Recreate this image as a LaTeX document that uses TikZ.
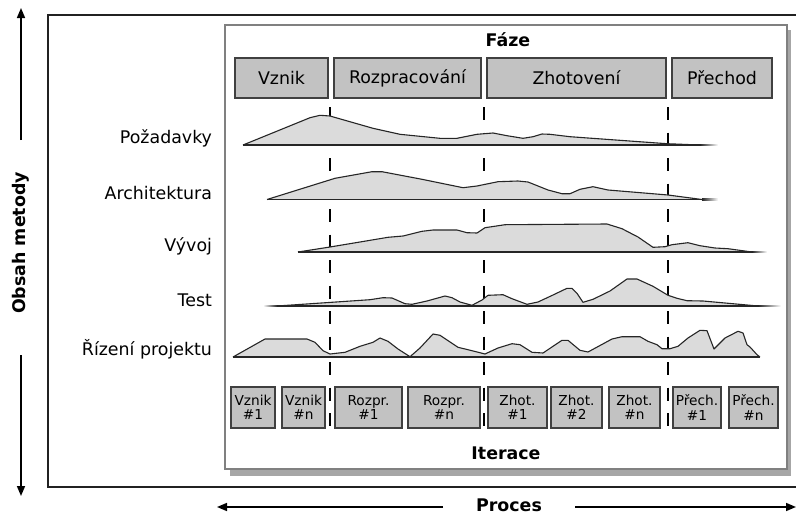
\documentclass[tikz,border=0pt]{standalone}
\usepackage{fontspec}
\setmainfont{DejaVu Sans}
\usetikzlibrary{arrows.meta}
\definecolor{boxfill}{gray}{0.76}
\definecolor{boxedge}{gray}{0.25}
\definecolor{profilefill}{gray}{0.86}
\definecolor{paneledge}{gray}{0.5}
\definecolor{panelshadow}{gray}{0.65}
\definecolor{frameline}{gray}{0.13}

\begin{document}
\begin{tikzpicture}[x=1pt,y=-1pt,
  every node/.style={inner sep=0pt, outer sep=0pt},
  phasebox/.style={draw=boxedge, fill=boxfill, line width=1.2pt,
    minimum height=40pt, font=\fontsize{17.4}{20}\selectfont},
  iterbox/.style={draw=boxedge, fill=boxfill, line width=1.2pt,
    minimum height=41pt, align=center,
    font=\fontsize{13.7}{14.3}\selectfont},
  rowlabel/.style={anchor=base east, font=\fontsize{17.4}{20}\selectfont},
  heading/.style={font=\bfseries\fontsize{17.4}{20}\selectfont},
  profile/.style={fill=profilefill},
  outline/.style={draw=black!85, line width=1.1pt, line join=round},
  baseln/.style={draw=black!85, line width=1.4pt},
  phaseline/.style={line width=2pt, dash pattern=on 13pt off 12.5pt},
  axis/.style={line width=1.6pt, -{Triangle[length=10pt,width=8pt]}},
]
\useasboundingbox (0,0) rectangle (796,515);

% outer frame (open on the right)
\draw[frameline, line width=2.4pt] (796,15) -- (48,15) -- (48,487) -- (796,487);

% axes
\coordinate (upS) at (21,140);   \coordinate (upE) at (21,8);
\coordinate (dnS) at (21,355);   \coordinate (dnE) at (21,496);
\coordinate (lfS) at (443,507);  \coordinate (lfE) at (217,507);
\coordinate (rtS) at (575,507);  \coordinate (rtE) at (796,507);
\draw[axis] (upS) -- (upE);
\draw[axis] (dnS) -- (dnE);
\draw[axis] (lfS) -- (lfE);
\draw[axis] (rtS) -- (rtE);
\node[heading, rotate=90] (obsah) at (21,243) {Obsah metody};
\node[heading, anchor=base] (proces) at (509,511.5) {Proces};

% inner panel with shadow
\fill[panelshadow] (230,30) rectangle (791,476);
\draw[paneledge, fill=white, line width=1.4pt] (225,25) rectangle (787,469);

% phases
\node[heading, anchor=base] (faze) at (508,46.7) {Fáze};
\node[phasebox, minimum width=93pt]  (pVz) at (281.5,78) {Vznik};
\node[phasebox, minimum width=147pt] (pRo) at (407.5,78) {Rozpracování};
\node[phasebox, minimum width=179pt] (pZh) at (576.5,78) {Zhotovení};
\node[phasebox, minimum width=100pt] (pPr) at (722,78) {Přechod};

% phase boundaries
\foreach \bx in {330,484,668}
  \draw[phaseline] (\bx,107) -- (\bx,426.5);

% Požadavky
\fill[profile] (243,145) -- (310,117.7) -- (320,115.3) -- (330,116) -- (373,128.3) -- (400,134.3) -- (440,138.3) -- (457,138.3) -- (477,134.3) -- (493,133) -- (507,135.7) -- (523,138.3) -- (533,136.7) -- (542,134) -- (550,134.3) -- (570,136.7) -- (667,143.7) -- (700,145) -- cycle;
\draw[outline] (243,145) -- (310,117.7) -- (320,115.3) -- (330,116) -- (373,128.3) -- (400,134.3) -- (440,138.3) -- (457,138.3) -- (477,134.3) -- (493,133) -- (507,135.7) -- (523,138.3) -- (533,136.7) -- (542,134) -- (550,134.3) -- (570,136.7) -- (667,143.7) -- (700,145);
\draw[baseln] (243,145) -- (700,145);
\shade[left color=black!85, right color=white] (700,144.3) rectangle (718,145.7);

% Architektura
\fill[profile] (267,199.5) -- (335,178.3) -- (372,171.7) -- (382,171.7) -- (422,179.3) -- (463,187.7) -- (477,186) -- (498,181.7) -- (518,181) -- (528,182) -- (548,190) -- (562,193.7) -- (570,193.7) -- (580,189.3) -- (593,186.7) -- (608,190) -- (668,195) -- (702,199.5) -- cycle;
\draw[outline] (267,199.5) -- (335,178.3) -- (372,171.7) -- (382,171.7) -- (422,179.3) -- (463,187.7) -- (477,186) -- (498,181.7) -- (518,181) -- (528,182) -- (548,190) -- (562,193.7) -- (570,193.7) -- (580,189.3) -- (593,186.7) -- (608,190) -- (668,195) -- (702,199.5);
\draw[baseln] (267,199.5) -- (702,199.5);
\shade[left color=black!85, right color=white] (702,198.8) rectangle (718,200.2);

% Vývoj
\fill[profile] (298,252) -- (330,247) -- (388,237.3) -- (403,236) -- (422,231.3) -- (433,230) -- (457,230) -- (467,232.7) -- (477,233) -- (485,227.7) -- (505,224.7) -- (607,224) -- (622,228.7) -- (638,237) -- (653,247.3) -- (665,246.7) -- (672,244.7) -- (688,242.7) -- (700,245.7) -- (715,248) -- (728,248.7) -- (752,252) -- cycle;
\draw[outline] (298,252) -- (330,247) -- (388,237.3) -- (403,236) -- (422,231.3) -- (433,230) -- (457,230) -- (467,232.7) -- (477,233) -- (485,227.7) -- (505,224.7) -- (607,224) -- (622,228.7) -- (638,237) -- (653,247.3) -- (665,246.7) -- (672,244.7) -- (688,242.7) -- (700,245.7) -- (715,248) -- (728,248.7) -- (752,252);
\draw[baseln] (298,252) -- (752,252);
\shade[left color=black!85, right color=white] (752,251.3) rectangle (767,252.7);

% Test
\fill[profile] (277,306) -- (370,299.7) -- (383,297.7) -- (392,298) -- (405,303.7) -- (412,304.3) -- (427,301) -- (445,296) -- (452,297.7) -- (460,302) -- (472,305.3) -- (482,300) -- (488,295.3) -- (503,294.7) -- (512,298.7) -- (527,304.3) -- (538,302) -- (553,295) -- (567,288.3) -- (572,288.3) -- (577,293.3) -- (583,302.3) -- (593,299.3) -- (610,291) -- (627,279) -- (637,279) -- (653,286.3) -- (668,295.3) -- (677,298.3) -- (687,300.7) -- (703,301) -- (758,306) -- cycle;
\draw[outline] (277,306) -- (370,299.7) -- (383,297.7) -- (392,298) -- (405,303.7) -- (412,304.3) -- (427,301) -- (445,296) -- (452,297.7) -- (460,302) -- (472,305.3) -- (482,300) -- (488,295.3) -- (503,294.7) -- (512,298.7) -- (527,304.3) -- (538,302) -- (553,295) -- (567,288.3) -- (572,288.3) -- (577,293.3) -- (583,302.3) -- (593,299.3) -- (610,291) -- (627,279) -- (637,279) -- (653,286.3) -- (668,295.3) -- (677,298.3) -- (687,300.7) -- (703,301) -- (758,306);
\draw[baseln] (277,306) -- (758,306);
\shade[left color=white, right color=black!85] (263,305.3) rectangle (277,306.7);
\shade[left color=black!85, right color=white] (758,305.3) rectangle (781,306.7);

% Řízení projektu
\fill[profile] (233,357) -- (265,339) -- (307,339) -- (315,342.3) -- (323,350.7) -- (330,354) -- (345,352.3) -- (360,346.3) -- (373,342.3) -- (380,338) -- (388,341.3) -- (398,349) -- (410,356.7) -- (420,348) -- (433,334) -- (440,335.3) -- (458,347.3) -- (468,349.7) -- (485,354) -- (498,348) -- (512,343.7) -- (520,344.7) -- (532,352.3) -- (543,353) -- (562,340.3) -- (568,340.3) -- (580,350.3) -- (588,352) -- (612,339) -- (622,336.7) -- (640,336.7) -- (648,341.3) -- (657,344.7) -- (662,348.7) -- (670,348.7) -- (678,346.3) -- (688,338) -- (700,330.3) -- (707,330.7) -- (714,349) -- (725,338) -- (738,331.3) -- (743,333) -- (747,344.7) -- (750,347) -- (757,354.7) -- (760,357) -- cycle;
\draw[outline] (233,357) -- (265,339) -- (307,339) -- (315,342.3) -- (323,350.7) -- (330,354) -- (345,352.3) -- (360,346.3) -- (373,342.3) -- (380,338) -- (388,341.3) -- (398,349) -- (410,356.7) -- (420,348) -- (433,334) -- (440,335.3) -- (458,347.3) -- (468,349.7) -- (485,354) -- (498,348) -- (512,343.7) -- (520,344.7) -- (532,352.3) -- (543,353) -- (562,340.3) -- (568,340.3) -- (580,350.3) -- (588,352) -- (612,339) -- (622,336.7) -- (640,336.7) -- (648,341.3) -- (657,344.7) -- (662,348.7) -- (670,348.7) -- (678,346.3) -- (688,338) -- (700,330.3) -- (707,330.7) -- (714,349) -- (725,338) -- (738,331.3) -- (743,333) -- (747,344.7) -- (750,347) -- (757,354.7) -- (760,357);
\draw[baseln] (233,357) -- (760,357);

% discipline labels
\node[rowlabel] (lReq)  at (212,143.3) {Požadavky};
\node[rowlabel] (lArch) at (212,199.3) {Architektura};
\node[rowlabel] (lDev)  at (212,251)   {Vývoj};
\node[rowlabel] (lTest) at (212,306.7) {Test};
\node[rowlabel] (lMgmt) at (212,355)   {Řízení projektu};

% iterations
\node[iterbox, minimum width=44pt] (i1) at (253,407.5)   {Vznik\\\#1};
\node[iterbox, minimum width=43pt] (i2) at (303.5,407.5) {Vznik\\\#n};
\node[iterbox, minimum width=67pt] (i3) at (368.5,407.5) {Rozpr.\\\#1};
\node[iterbox, minimum width=72pt] (i4) at (444,407.5)   {Rozpr.\\\#n};
\node[iterbox, minimum width=59pt] (i5) at (517.5,407.5) {Zhot.\\\#1};
\node[iterbox, minimum width=51pt] (i6) at (576.5,407.5) {Zhot.\\\#2};
\node[iterbox, minimum width=51pt] (i7) at (634.5,407.5) {Zhot.\\\#n};
\node[iterbox, minimum width=48pt] (i8) at (697,407.5)   {Přech.\\\#1};
\node[iterbox, minimum width=49pt] (i9) at (753.5,407.5) {Přech.\\\#n};
\node[heading, anchor=base] (iterace) at (506,459) {Iterace};
\end{tikzpicture}
\end{document}
